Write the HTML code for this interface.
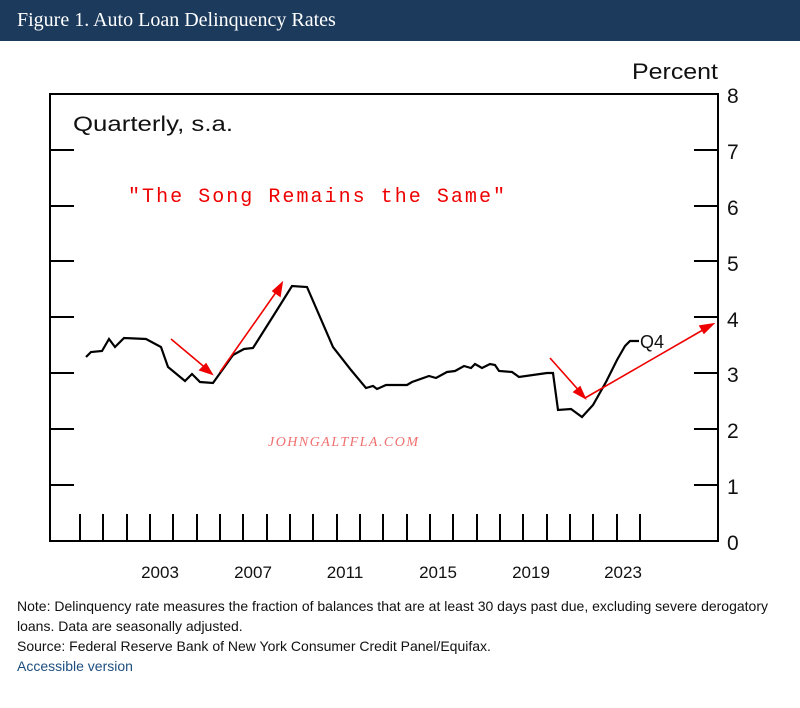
<!DOCTYPE html>
<html><head><meta charset="utf-8"><style>
body{margin:0;width:800px;height:708px;background:#fff;overflow:hidden;font-family:"Liberation Sans",sans-serif;}
.hd{position:absolute;left:0;top:0;width:800px;height:41px;background:#1b3a5c;color:#fff;font-family:"Liberation Serif",serif;font-size:20px;line-height:41px;padding-left:17px;box-sizing:border-box;}
.note{position:absolute;left:17px;top:596px;font-size:14px;line-height:20px;color:#111;width:765px;}
.note a{color:#1d4e80;text-decoration:none;}
</style></head><body>
<div class="hd">Figure 1. Auto Loan Delinquency Rates</div>
<svg width="800" height="708" style="position:absolute;left:0;top:0">
<g stroke="#000" stroke-width="2" fill="none">
<rect x="50" y="94" width="668" height="447"/>
<path d="M50 485h24M50 429h24M50 373h24M50 317h24M50 261h24M50 206h24M50 150h24M694 485h24M694 429h24M694 373h24M694 317h24M694 261h24M694 206h24M694 150h24M50 94h24M694 94h24"/>
<path d="M80 514v27M103 514v27M127 514v27M150 514v27M173 514v27M197 514v27M220 514v27M243 514v27M267 514v27M290 514v27M313 514v27M337 514v27M360 514v27M383 514v27M407 514v27M430 514v27M453 514v27M477 514v27M500 514v27M523 514v27M547 514v27M570 514v27M593 514v27M617 514v27M640 514v27"/>
<polyline stroke-width="2.2" points="86,357 91,352 102,351 109,339 115,347 124,338 146,339 161,347 168,367 185,381 192,374 200,382 213,383 233,355 244,349 253,348 277,310 292,286 307,287 333,347 351,370 366,388 373,386 377,389 386,385 407,385 412,382 429,376 436,378 447,372 455,371 464,366 471,368 475,364 482,368 490,364 495,365 499,371 512,372 519,377 547,373 553,373 558,410 571,409 582,417 593,405 606,382 617,360 625,346 630,341 639,341"/>
</g>
<g stroke="#e00" stroke-width="1.6" fill="#e00">
<line x1="171" y1="339" x2="208" y2="370"/><polygon points="212,374 200,370 206,364"/>
<line x1="220" y1="372" x2="279" y2="288"/><polygon points="282,283 280,296 273,291"/>
<line x1="550" y1="358" x2="582" y2="394"/><polygon points="585,398 574,392 580,387"/>
<line x1="585" y1="398" x2="708" y2="327"/><polygon points="713,324 704,333 700,326"/>
</g>
<g font-size="21" fill="#111">
<text x="727" y="103">8</text><text x="727" y="159">7</text><text x="727" y="215">6</text><text x="727" y="271">5</text><text x="727" y="327">4</text><text x="727" y="382">3</text><text x="727" y="438">2</text><text x="727" y="494">1</text><text x="727" y="550">0</text>
<text x="632" y="79" font-size="22" textLength="86" lengthAdjust="spacingAndGlyphs">Percent</text>
<text x="73" y="131" font-size="21" textLength="160" lengthAdjust="spacingAndGlyphs">Quarterly, s.a.</text>
<text x="640" y="348" font-size="18">Q4</text>
</g>
<g font-size="17" fill="#111" text-anchor="middle">
<text x="160" y="578">2003</text><text x="253" y="578">2007</text><text x="345" y="578">2011</text><text x="438" y="578">2015</text><text x="531" y="578">2019</text><text x="623" y="578">2023</text>
</g>
<text x="128" y="202" font-family="Liberation Mono,monospace" font-size="20" fill="#e00" textLength="377" lengthAdjust="spacing">"The Song Remains the Same"</text>
<text x="268" y="446" font-family="Liberation Serif,serif" font-style="italic" font-size="14" fill="#f07070" textLength="150">JOHNGALTFLA.COM</text>
</svg>
<div class="note">Note: Delinquency rate measures the fraction of balances that are at least 30 days past due, excluding severe derogatory loans. Data are seasonally adjusted.<br>Source: Federal Reserve Bank of New York Consumer Credit Panel/Equifax.<br><a>Accessible version</a></div>
</body></html>
